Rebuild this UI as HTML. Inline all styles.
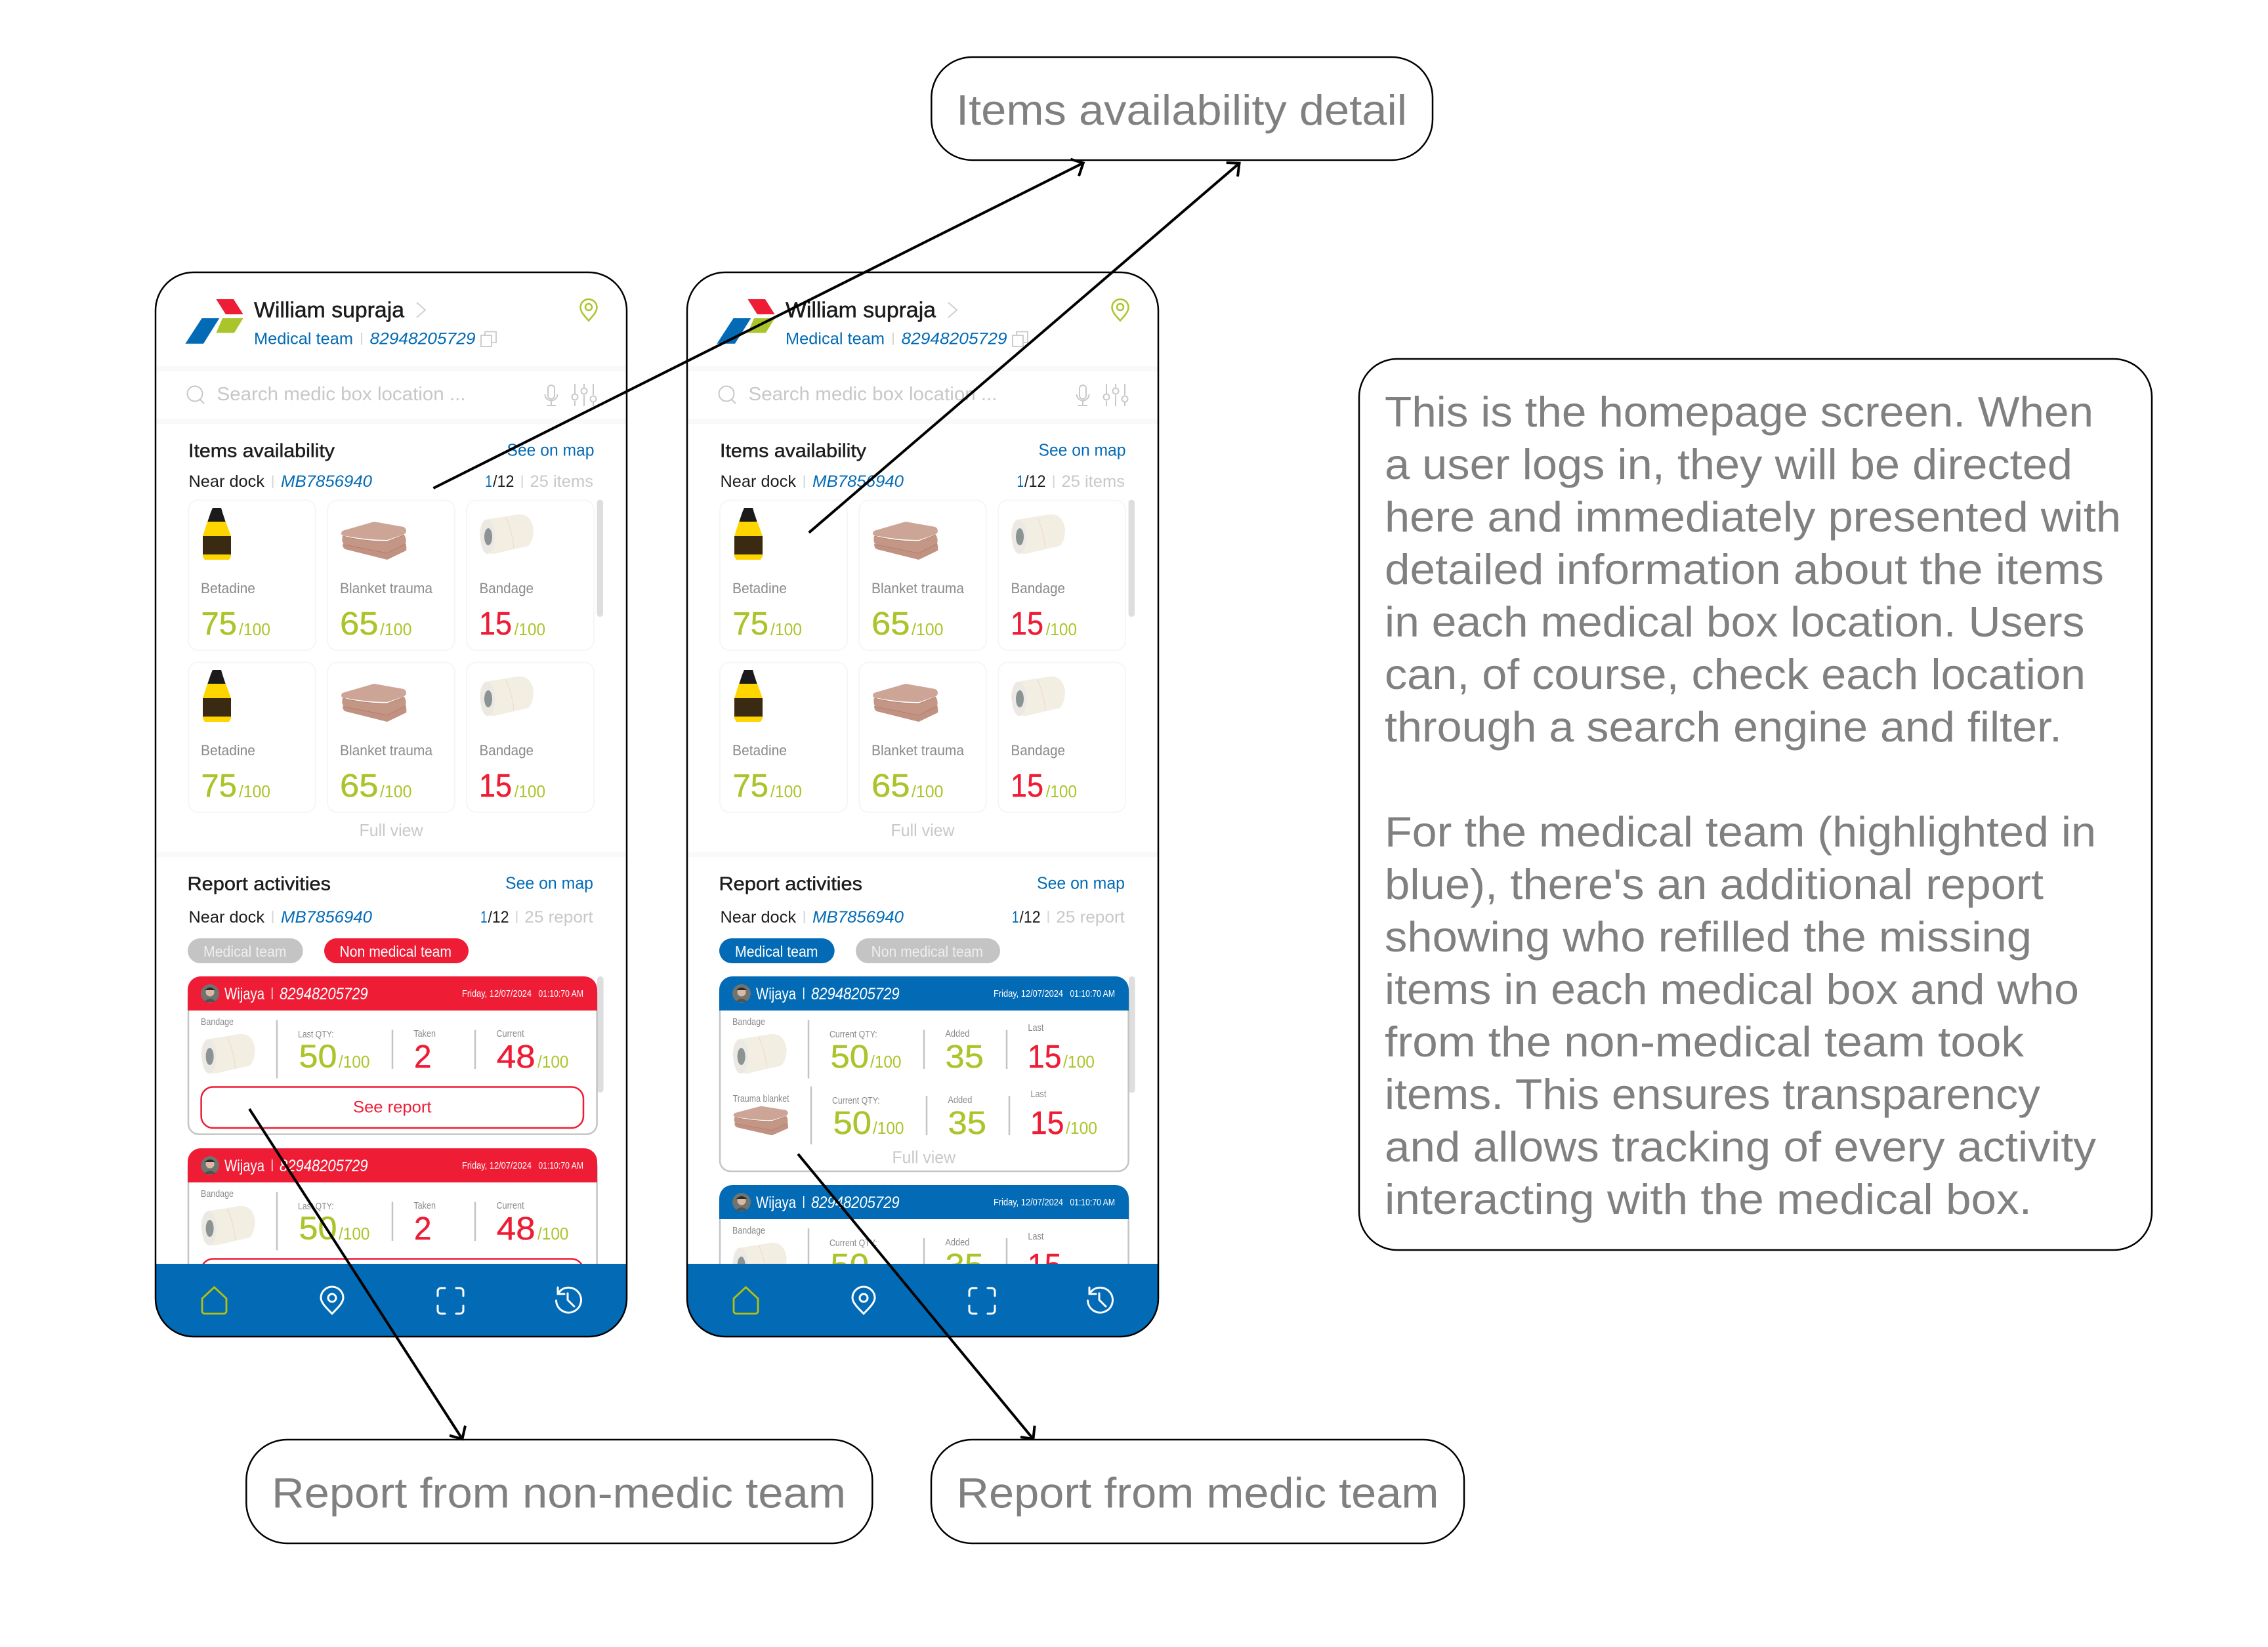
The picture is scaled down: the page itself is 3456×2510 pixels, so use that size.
<!DOCTYPE html>
<html lang="en"><head><meta charset="utf-8"><title>Homepage screens</title>
<style>
html,body{margin:0;padding:0;background:#fff;width:3456px;height:2510px;overflow:hidden}
svg{display:block}
text{font-family:"Liberation Sans",sans-serif;white-space:pre}
.i{font-style:italic}
.m{stroke:currentColor;stroke-width:.5}
.blue{fill:#036BB6}.dk{fill:#1c1c1c}.lg{fill:#c8c8c8}.mg{fill:#8a8a8a}.gr{fill:#AAC52B;color:#AAC52B}.rd{fill:#EE1C35;color:#EE1C35}.wh{fill:#fff}
.f14{font-size:14.5px}.f22{font-size:22px}.f23{font-size:23px}.f25{font-size:25px}.f26{font-size:26px}.f29{font-size:29px}.f33{font-size:33px}.f49{font-size:49px}
.big{font-size:65px;fill:#808080}
.ln{stroke:#c4c4c4;stroke-width:2.5;fill:none}
.sp{stroke:#d6d6d6;stroke-width:2}
.cd{fill:#fff;stroke:#f6f6f6;stroke-width:2}
.ar{stroke:#000;stroke-width:4;fill:none;stroke-linecap:butt;stroke-linejoin:miter}
.bx{fill:#fff;stroke:#000;stroke-width:2.5}
</style></head><body>
<svg xmlns="http://www.w3.org/2000/svg" width="3456" height="2510" viewBox="0 0 3456 2510">
<defs>
<g id="bt">
<path d="M324 774H337L339 781L344 796H316L321 781Z" fill="#1b1b1b"/>
<path d="M316 795H344L352 817V848L349 853H312L309 848V817Z" fill="#FFD500"/>
<rect x="309" y="817" width="43" height="28" fill="#3a2a12"/>
</g>
<g id="bl">
<path d="M2 34Q2 40 6 42L70 58L99 44Q100 38 98 33L70 47Z" fill="#c19182"/>
<path d="M2 22Q0 30 4 35L70 48L98 34Q100 26 96 20L70 30Q35 30 2 22Z" fill="#c49686"/>
<path d="M0 18Q0 14 5 13L50 0L95 8Q99 10 99 14Q99 18 94 20L70 28Q40 28 8 22Q0 22 0 18Z" fill="#cda597"/>
<path d="M3 22Q35 30 70 30L96 20M4 35L70 48L98 34" fill="none" stroke="#a87c6c" stroke-width=".8"/>
</g>
<g id="bn">
<path d="M8 8L58 0Q78-2 82 22Q82 40 74 48L22 60Q4 62 0 32Q0 14 8 8Z" fill="#f2eee2"/>
<ellipse cx="12" cy="34" rx="11" ry="26" fill="#ece8e4"/>
<ellipse cx="13" cy="34" rx="6" ry="13" fill="#8b9493"/>
<path d="M40 5Q50 28 52 52" fill="none" stroke="#f0d8cc" stroke-width="1"/>
</g>
</defs>
<rect width="3456" height="2510" fill="#fff"/>

<!-- PHONE 1 -->
<g id="p1">
<rect x="237" y="415" width="718" height="1622" rx="58" fill="#fff"/>
<rect x="238" y="558" width="716" height="8" fill="#f9f9f9"/><rect x="238" y="638" width="716" height="8" fill="#f9f9f9"/><rect x="238" y="1298.6" width="716" height="7.5" fill="#f9f9f9"/>
<path d="M329.4 456H356L370.6 479H343.9Z" fill="#EE1C35"/><path d="M307.6 485H334.2L310 523.7H282.4Z" fill="#036BB6"/><path d="M339 485H370.6L357 507.3H329.4Z" fill="#AAC52B"/>
<text x="387" y="483.7" textLength="229" lengthAdjust="spacingAndGlyphs" class="f33 dk m" style="color:#111">William supraja</text>
<path d="M635 461L648 472.500L635 484" fill="none" stroke="#d0d0d0" stroke-width="2"/>
<text x="387" y="524.500" textLength="151" lengthAdjust="spacingAndGlyphs" class="f25 blue">Medical team</text>
<path d="M551 507V525.700" class="sp"/>
<text x="563.500" y="524.500" textLength="161" lengthAdjust="spacingAndGlyphs" class="f25 blue i">82948205729</text>
<path d="M739 511V505.500H756V522H749M733 511H749V528H733Z" fill="none" stroke="#c8c8c8" stroke-width="1.800"/>
<path d="M897 488.600C890 481 884.500 475 884.500 468.500A12.500 12.500 0 0 1 909.500 468.500C909.500 475 904 481 897 488.600Z" fill="none" stroke="#AAC52B" stroke-width="2.500"/><circle cx="897" cy="468" r="5" fill="none" stroke="#AAC52B" stroke-width="2.500"/>
<circle cx="297" cy="600" r="11.500" fill="none" stroke="#c8c8c8" stroke-width="2"/><path d="M305 609L311 615" stroke="#c8c8c8" stroke-width="2"/>
<text x="330.500" y="610" textLength="379" lengthAdjust="spacingAndGlyphs" class="f29 lg">Search medic box location ...</text>
<g fill="none" stroke="#c8c8c8" stroke-width="2"><rect x="835" y="587" width="10" height="21" rx="5"/><path d="M830.500 601A9.500 9.500 0 0 0 849.500 601M840 611V618M833 618H847"/>
<path d="M876 585V600M876 611V619M890 585V591M890 602V619M904 585V602M904 613V619"/><circle cx="876" cy="605" r="4.500"/><circle cx="890" cy="596" r="4.500"/><circle cx="904" cy="608" r="4.500"/></g>
<text x="287" y="696.700" textLength="223" lengthAdjust="spacingAndGlyphs" class="f29 dk m" style="color:#222">Items availability</text>
<text x="772.500" y="694.700" textLength="133" lengthAdjust="spacingAndGlyphs" class="f26 blue">See on map</text>
<text x="287.500" y="742" textLength="115.500" lengthAdjust="spacingAndGlyphs" class="f25 dk">Near dock</text>
<path d="M415.600 724.500V743.700" class="sp"/>
<text x="428" y="742" textLength="139" lengthAdjust="spacingAndGlyphs" class="f25 blue i">MB7856940</text>
<text x="739.500" y="742" textLength="10.500" lengthAdjust="spacingAndGlyphs" class="f25 blue">1</text><text x="751" y="742" textLength="32.500" lengthAdjust="spacingAndGlyphs" class="f25 dk">/12</text>
<path d="M795.700 724.500V743.700" class="sp"/>
<text x="807.500" y="742" textLength="96.500" lengthAdjust="spacingAndGlyphs" class="f25 lg">25 items</text>
<rect x="909.600" y="761.600" width="9.400" height="178.400" rx="4.500" fill="#dedede"/>
<rect x="287" y="762.400" width="194" height="228.600" rx="15" class="cd"/><rect x="499" y="762.400" width="194" height="228.600" rx="15" class="cd"/><rect x="711" y="762.400" width="194" height="228.600" rx="15" class="cd"/>
<use href="#bt"/><use href="#bl" transform="translate(520 795)"/><use href="#bn" transform="translate(731 784)"/>
<text x="306" y="904" textLength="83" lengthAdjust="spacingAndGlyphs" class="f22 mg">Betadine</text>
<text x="518" y="904" textLength="141" lengthAdjust="spacingAndGlyphs" class="f22 mg">Blanket trauma</text>
<text x="730.500" y="904" textLength="82.500" lengthAdjust="spacingAndGlyphs" class="f22 mg">Bandage</text>
<text x="306.500" y="967" textLength="54.500" lengthAdjust="spacingAndGlyphs" class="f49 gr m">75</text><text x="364" y="968" textLength="48" lengthAdjust="spacingAndGlyphs" class="f26 gr">/100</text>
<text x="518" y="967" textLength="58.600" lengthAdjust="spacingAndGlyphs" class="f49 gr m">65</text><text x="579" y="968" textLength="48.500" lengthAdjust="spacingAndGlyphs" class="f26 gr">/100</text>
<text x="730" y="967" textLength="50" lengthAdjust="spacingAndGlyphs" class="f49 rd m">15</text><text x="783.600" y="968" textLength="47.400" lengthAdjust="spacingAndGlyphs" class="f26 gr">/100</text>
<g transform="translate(0 247)">
<rect x="287" y="762.400" width="194" height="228.600" rx="15" class="cd"/><rect x="499" y="762.400" width="194" height="228.600" rx="15" class="cd"/><rect x="711" y="762.400" width="194" height="228.600" rx="15" class="cd"/>
<use href="#bt"/><use href="#bl" transform="translate(520 795)"/><use href="#bn" transform="translate(731 784)"/>
<text x="306" y="904" textLength="83" lengthAdjust="spacingAndGlyphs" class="f22 mg">Betadine</text>
<text x="518" y="904" textLength="141" lengthAdjust="spacingAndGlyphs" class="f22 mg">Blanket trauma</text>
<text x="730.500" y="904" textLength="82.500" lengthAdjust="spacingAndGlyphs" class="f22 mg">Bandage</text>
<text x="306.500" y="967" textLength="54.500" lengthAdjust="spacingAndGlyphs" class="f49 gr m">75</text><text x="364" y="968" textLength="48" lengthAdjust="spacingAndGlyphs" class="f26 gr">/100</text>
<text x="518" y="967" textLength="58.600" lengthAdjust="spacingAndGlyphs" class="f49 gr m">65</text><text x="579" y="968" textLength="48.500" lengthAdjust="spacingAndGlyphs" class="f26 gr">/100</text>
<text x="730" y="967" textLength="50" lengthAdjust="spacingAndGlyphs" class="f49 rd m">15</text><text x="783.600" y="968" textLength="47.400" lengthAdjust="spacingAndGlyphs" class="f26 gr">/100</text>
</g>
<text x="547.500" y="1274" textLength="97" lengthAdjust="spacingAndGlyphs" class="f26 lg">Full view</text>
<text x="285.500" y="1356.500" textLength="218.500" lengthAdjust="spacingAndGlyphs" class="f29 dk m" style="color:#222">Report activities</text>
<text x="770" y="1354.500" textLength="134" lengthAdjust="spacingAndGlyphs" class="f26 blue">See on map</text>
<text x="287.500" y="1406" textLength="115.500" lengthAdjust="spacingAndGlyphs" class="f25 dk">Near dock</text>
<path d="M415.600 1388V1407" class="sp"/>
<text x="428" y="1406" textLength="139" lengthAdjust="spacingAndGlyphs" class="f25 blue i">MB7856940</text>
<text x="732" y="1406" textLength="10.500" lengthAdjust="spacingAndGlyphs" class="f25 blue">1</text><text x="743.500" y="1406" textLength="32" lengthAdjust="spacingAndGlyphs" class="f25 dk">/12</text>
<path d="M787.400 1388V1407" class="sp"/>
<text x="799.300" y="1406" textLength="104.500" lengthAdjust="spacingAndGlyphs" class="f25 lg">25 report</text>
<rect x="286" y="1430" width="175.700" height="38" rx="19" fill="#c4c4c4"/><rect x="494" y="1430" width="220" height="38" rx="19" fill="#EE1C35"/>
<text x="310" y="1457.800" textLength="126.500" lengthAdjust="spacingAndGlyphs" class="f23" fill="#eee">Medical team</text>
<text x="517.500" y="1457.800" textLength="170.500" lengthAdjust="spacingAndGlyphs" class="f23 wh">Non medical team</text>
<rect x="910" y="1488" width="9.600" height="177" rx="4.500" fill="#dedede"/>
<!-- card 1 -->
<rect x="287" y="1500" width="622.600" height="228.600" rx="16" fill="#fff" stroke="#c4c4c4" stroke-width="2.500"/>
<path d="M286 1540V1508A20 20 0 0 1 306 1488H890A20 20 0 0 1 910 1508V1540Z" fill="#EE1C35"/>
<circle cx="320" cy="1514" r="14" fill="#6f7470"/><circle cx="320" cy="1512" r="6.500" fill="#d9b9a3"/><path d="M312 1509Q320 1501 328 1509Z" fill="#2c2a28"/><path d="M311 1527Q320 1517 329 1527Z" fill="#4e544f"/>
<text x="342" y="1523" textLength="61" lengthAdjust="spacingAndGlyphs" class="f25 wh">Wijaya</text><path d="M414.700 1505V1523" stroke="#fff" stroke-width="1.500"/>
<text x="426" y="1523" textLength="134.600" lengthAdjust="spacingAndGlyphs" class="f25 wh i">82948205729</text>
<text x="704" y="1519" textLength="106" lengthAdjust="spacingAndGlyphs" class="f14 wh">Friday, 12/07/2024</text><text x="820.400" y="1519" textLength="68.600" lengthAdjust="spacingAndGlyphs" class="f14 wh">01:10:70 AM</text>
<text x="306" y="1562" textLength="50" lengthAdjust="spacingAndGlyphs" class="f14 mg">Bandage</text>
<use href="#bn" transform="translate(306.600 1576)"/>
<path d="M422 1554.500V1643.500M598 1569.600V1629M724 1569.600V1629" class="ln"/>
<text x="454" y="1581" textLength="54.700" lengthAdjust="spacingAndGlyphs" class="f14 mg">Last QTY:</text>
<text x="455.500" y="1626.700" textLength="58" lengthAdjust="spacingAndGlyphs" class="f49 gr m">50</text><text x="516" y="1627" textLength="47.500" lengthAdjust="spacingAndGlyphs" class="f26 gr">/100</text>
<text x="630.400" y="1580" textLength="33.600" lengthAdjust="spacingAndGlyphs" class="f14 mg">Taken</text>
<text x="631" y="1627" textLength="26.500" lengthAdjust="spacingAndGlyphs" class="f49 rd m">2</text>
<text x="756.400" y="1580" textLength="42.200" lengthAdjust="spacingAndGlyphs" class="f14 mg">Current</text>
<text x="756.800" y="1627" textLength="58.800" lengthAdjust="spacingAndGlyphs" class="f49 rd m">48</text><text x="819" y="1627" textLength="47.500" lengthAdjust="spacingAndGlyphs" class="f26 gr">/100</text>
<rect x="306.600" y="1656.500" width="582.400" height="62.500" rx="18" fill="#fff" stroke="#EE1C35" stroke-width="2.500"/>
<text x="538" y="1695.700" textLength="119.500" lengthAdjust="spacingAndGlyphs" class="f25 rd">See report</text>
<!-- card 2 -->
<rect x="287" y="1762" width="622.600" height="240" rx="16" fill="#fff" stroke="#c4c4c4" stroke-width="2.500"/>
<path d="M286 1802V1770A20 20 0 0 1 306 1750H890A20 20 0 0 1 910 1770V1802Z" fill="#EE1C35"/>
<circle cx="320" cy="1776" r="14" fill="#6f7470"/><circle cx="320" cy="1774" r="6.500" fill="#d9b9a3"/><path d="M312 1771Q320 1763 328 1771Z" fill="#2c2a28"/><path d="M311 1789Q320 1779 329 1789Z" fill="#4e544f"/>
<text x="342" y="1785" textLength="61" lengthAdjust="spacingAndGlyphs" class="f25 wh">Wijaya</text><path d="M414.700 1767V1785" stroke="#fff" stroke-width="1.500"/>
<text x="426" y="1785" textLength="134.600" lengthAdjust="spacingAndGlyphs" class="f25 wh i">82948205729</text>
<text x="704" y="1781" textLength="106" lengthAdjust="spacingAndGlyphs" class="f14 wh">Friday, 12/07/2024</text><text x="820.400" y="1781" textLength="68.600" lengthAdjust="spacingAndGlyphs" class="f14 wh">01:10:70 AM</text>
<text x="306" y="1824" textLength="50" lengthAdjust="spacingAndGlyphs" class="f14 mg">Bandage</text>
<use href="#bn" transform="translate(306.600 1838)"/>
<path d="M422 1816.500V1905.500M598 1831.600V1891M724 1831.600V1891" class="ln"/>
<text x="454" y="1843" textLength="54.700" lengthAdjust="spacingAndGlyphs" class="f14 mg">Last QTY:</text>
<text x="455.500" y="1888.700" textLength="58" lengthAdjust="spacingAndGlyphs" class="f49 gr m">50</text><text x="516" y="1889" textLength="47.500" lengthAdjust="spacingAndGlyphs" class="f26 gr">/100</text>
<text x="630.400" y="1842" textLength="33.600" lengthAdjust="spacingAndGlyphs" class="f14 mg">Taken</text>
<text x="631" y="1889" textLength="26.500" lengthAdjust="spacingAndGlyphs" class="f49 rd m">2</text>
<text x="756.400" y="1842" textLength="42.200" lengthAdjust="spacingAndGlyphs" class="f14 mg">Current</text>
<text x="756.800" y="1889" textLength="58.800" lengthAdjust="spacingAndGlyphs" class="f49 rd m">48</text><text x="819" y="1889" textLength="47.500" lengthAdjust="spacingAndGlyphs" class="f26 gr">/100</text>
<rect x="306.600" y="1918.500" width="582.400" height="62.500" rx="18" fill="#fff" stroke="#EE1C35" stroke-width="2.500"/>
<!-- nav -->
<path d="M237 1926H955V1979A58 58 0 0 1 897 2037H295A58 58 0 0 1 237 1979Z" fill="#036BB6"/>
<path d="M326.500 1961.700L345 1979V1998A4 4 0 0 1 341 2002H312A4 4 0 0 1 308 1998V1979Z" fill="none" stroke="#B5C010" stroke-width="2.800"/>
<g fill="none" stroke="#fff" stroke-width="3" stroke-linecap="round">
<path d="M506 2002C497 1993 489 1985 489 1978A17 17 0 0 1 523 1978C523 1985 515 1993 506 2002Z"/><circle cx="506" cy="1978" r="6"/>
<path d="M667 1975V1968A5 5 0 0 1 672 1963H678M695 1963H701A5 5 0 0 1 706 1968V1975M706 1990V1997A5 5 0 0 1 701 2002H695M678 2002H672A5 5 0 0 1 667 1997V1990"/>
<path d="M852 1969A19 19 0 1 1 847.500 1982M850 1962V1972H860M865 1971V1981L875 1991"/>
</g>
<rect x="237" y="415" width="718" height="1622" rx="58" fill="none" stroke="#000" stroke-width="2.500"/>
</g>

<!-- PHONE 2 -->
<g transform="translate(810 0)">
<rect x="237" y="415" width="718" height="1622" rx="58" fill="#fff"/>
<rect x="238" y="558" width="716" height="8" fill="#f9f9f9"/><rect x="238" y="638" width="716" height="8" fill="#f9f9f9"/><rect x="238" y="1298.600" width="716" height="7.500" fill="#f9f9f9"/>
<path d="M329.400 456H356L370.600 479H343.900Z" fill="#EE1C35"/><path d="M307.600 485H334.200L310 523.700H282.400Z" fill="#036BB6"/><path d="M339 485H370.600L357 507.300H329.400Z" fill="#AAC52B"/>
<text x="387" y="483.700" textLength="229" lengthAdjust="spacingAndGlyphs" class="f33 dk m" style="color:#111">William supraja</text>
<path d="M635 461L648 472.500L635 484" fill="none" stroke="#d0d0d0" stroke-width="2"/>
<text x="387" y="524.500" textLength="151" lengthAdjust="spacingAndGlyphs" class="f25 blue">Medical team</text>
<path d="M551 507V525.700" class="sp"/>
<text x="563.500" y="524.500" textLength="161" lengthAdjust="spacingAndGlyphs" class="f25 blue i">82948205729</text>
<path d="M739 511V505.500H756V522H749M733 511H749V528H733Z" fill="none" stroke="#c8c8c8" stroke-width="1.800"/>
<path d="M897 488.600C890 481 884.500 475 884.500 468.500A12.500 12.500 0 0 1 909.500 468.500C909.500 475 904 481 897 488.600Z" fill="none" stroke="#AAC52B" stroke-width="2.500"/><circle cx="897" cy="468" r="5" fill="none" stroke="#AAC52B" stroke-width="2.500"/>
<circle cx="297" cy="600" r="11.500" fill="none" stroke="#c8c8c8" stroke-width="2"/><path d="M305 609L311 615" stroke="#c8c8c8" stroke-width="2"/>
<text x="330.500" y="610" textLength="379" lengthAdjust="spacingAndGlyphs" class="f29 lg">Search medic box location ...</text>
<g fill="none" stroke="#c8c8c8" stroke-width="2"><rect x="835" y="587" width="10" height="21" rx="5"/><path d="M830.500 601A9.500 9.500 0 0 0 849.500 601M840 611V618M833 618H847"/>
<path d="M876 585V600M876 611V619M890 585V591M890 602V619M904 585V602M904 613V619"/><circle cx="876" cy="605" r="4.500"/><circle cx="890" cy="596" r="4.500"/><circle cx="904" cy="608" r="4.500"/></g>
<text x="287" y="696.700" textLength="223" lengthAdjust="spacingAndGlyphs" class="f29 dk m" style="color:#222">Items availability</text>
<text x="772.500" y="694.700" textLength="133" lengthAdjust="spacingAndGlyphs" class="f26 blue">See on map</text>
<text x="287.500" y="742" textLength="115.500" lengthAdjust="spacingAndGlyphs" class="f25 dk">Near dock</text>
<path d="M415.600 724.500V743.700" class="sp"/>
<text x="428" y="742" textLength="139" lengthAdjust="spacingAndGlyphs" class="f25 blue i">MB7856940</text>
<text x="739.500" y="742" textLength="10.500" lengthAdjust="spacingAndGlyphs" class="f25 blue">1</text><text x="751" y="742" textLength="32.500" lengthAdjust="spacingAndGlyphs" class="f25 dk">/12</text>
<path d="M795.700 724.500V743.700" class="sp"/>
<text x="807.500" y="742" textLength="96.500" lengthAdjust="spacingAndGlyphs" class="f25 lg">25 items</text>
<rect x="909.600" y="761.600" width="9.400" height="178.400" rx="4.500" fill="#dedede"/>
<rect x="287" y="762.400" width="194" height="228.600" rx="15" class="cd"/><rect x="499" y="762.400" width="194" height="228.600" rx="15" class="cd"/><rect x="711" y="762.400" width="194" height="228.600" rx="15" class="cd"/>
<use href="#bt"/><use href="#bl" transform="translate(520 795)"/><use href="#bn" transform="translate(731 784)"/>
<text x="306" y="904" textLength="83" lengthAdjust="spacingAndGlyphs" class="f22 mg">Betadine</text>
<text x="518" y="904" textLength="141" lengthAdjust="spacingAndGlyphs" class="f22 mg">Blanket trauma</text>
<text x="730.500" y="904" textLength="82.500" lengthAdjust="spacingAndGlyphs" class="f22 mg">Bandage</text>
<text x="306.500" y="967" textLength="54.500" lengthAdjust="spacingAndGlyphs" class="f49 gr m">75</text><text x="364" y="968" textLength="48" lengthAdjust="spacingAndGlyphs" class="f26 gr">/100</text>
<text x="518" y="967" textLength="58.600" lengthAdjust="spacingAndGlyphs" class="f49 gr m">65</text><text x="579" y="968" textLength="48.500" lengthAdjust="spacingAndGlyphs" class="f26 gr">/100</text>
<text x="730" y="967" textLength="50" lengthAdjust="spacingAndGlyphs" class="f49 rd m">15</text><text x="783.600" y="968" textLength="47.400" lengthAdjust="spacingAndGlyphs" class="f26 gr">/100</text>
<g transform="translate(0 247)">
<rect x="287" y="762.400" width="194" height="228.600" rx="15" class="cd"/><rect x="499" y="762.400" width="194" height="228.600" rx="15" class="cd"/><rect x="711" y="762.400" width="194" height="228.600" rx="15" class="cd"/>
<use href="#bt"/><use href="#bl" transform="translate(520 795)"/><use href="#bn" transform="translate(731 784)"/>
<text x="306" y="904" textLength="83" lengthAdjust="spacingAndGlyphs" class="f22 mg">Betadine</text>
<text x="518" y="904" textLength="141" lengthAdjust="spacingAndGlyphs" class="f22 mg">Blanket trauma</text>
<text x="730.500" y="904" textLength="82.500" lengthAdjust="spacingAndGlyphs" class="f22 mg">Bandage</text>
<text x="306.500" y="967" textLength="54.500" lengthAdjust="spacingAndGlyphs" class="f49 gr m">75</text><text x="364" y="968" textLength="48" lengthAdjust="spacingAndGlyphs" class="f26 gr">/100</text>
<text x="518" y="967" textLength="58.600" lengthAdjust="spacingAndGlyphs" class="f49 gr m">65</text><text x="579" y="968" textLength="48.500" lengthAdjust="spacingAndGlyphs" class="f26 gr">/100</text>
<text x="730" y="967" textLength="50" lengthAdjust="spacingAndGlyphs" class="f49 rd m">15</text><text x="783.600" y="968" textLength="47.400" lengthAdjust="spacingAndGlyphs" class="f26 gr">/100</text>
</g>
<text x="547.500" y="1274" textLength="97" lengthAdjust="spacingAndGlyphs" class="f26 lg">Full view</text>
<text x="285.500" y="1356.500" textLength="218.500" lengthAdjust="spacingAndGlyphs" class="f29 dk m" style="color:#222">Report activities</text>
<text x="770" y="1354.500" textLength="134" lengthAdjust="spacingAndGlyphs" class="f26 blue">See on map</text>
<text x="287.500" y="1406" textLength="115.500" lengthAdjust="spacingAndGlyphs" class="f25 dk">Near dock</text>
<path d="M415.600 1388V1407" class="sp"/>
<text x="428" y="1406" textLength="139" lengthAdjust="spacingAndGlyphs" class="f25 blue i">MB7856940</text>
<text x="732" y="1406" textLength="10.500" lengthAdjust="spacingAndGlyphs" class="f25 blue">1</text><text x="743.500" y="1406" textLength="32" lengthAdjust="spacingAndGlyphs" class="f25 dk">/12</text>
<path d="M787.400 1388V1407" class="sp"/>
<text x="799.300" y="1406" textLength="104.500" lengthAdjust="spacingAndGlyphs" class="f25 lg">25 report</text>
<rect x="286" y="1430" width="175.700" height="38" rx="19" fill="#036BB6"/><rect x="494" y="1430" width="220" height="38" rx="19" fill="#c4c4c4"/>
<text x="310" y="1457.800" textLength="126.500" lengthAdjust="spacingAndGlyphs" class="f23 wh">Medical team</text>
<text x="517.500" y="1457.800" textLength="170.500" lengthAdjust="spacingAndGlyphs" class="f23" fill="#eee">Non medical team</text>
<rect x="910" y="1488" width="9.600" height="177.500" rx="4.500" fill="#dedede"/>
<!-- card 1 -->
<rect x="287" y="1500" width="622.600" height="285" rx="16" fill="#fff" stroke="#c4c4c4" stroke-width="2.500"/>
<path d="M286 1540V1508A20 20 0 0 1 306 1488H890A20 20 0 0 1 910 1508V1540Z" fill="#036BB6"/>
<circle cx="320" cy="1514" r="14" fill="#6f7470"/><circle cx="320" cy="1512" r="6.500" fill="#d9b9a3"/><path d="M312 1509Q320 1501 328 1509Z" fill="#2c2a28"/><path d="M311 1527Q320 1517 329 1527Z" fill="#4e544f"/>
<text x="342" y="1523" textLength="61" lengthAdjust="spacingAndGlyphs" class="f25 wh">Wijaya</text><path d="M414.700 1505V1523" stroke="#fff" stroke-width="1.500"/>
<text x="426" y="1523" textLength="134.600" lengthAdjust="spacingAndGlyphs" class="f25 wh i">82948205729</text>
<text x="704" y="1519" textLength="106" lengthAdjust="spacingAndGlyphs" class="f14 wh">Friday, 12/07/2024</text><text x="820.400" y="1519" textLength="68.600" lengthAdjust="spacingAndGlyphs" class="f14 wh">01:10:70 AM</text>
<text x="306" y="1562" textLength="50" lengthAdjust="spacingAndGlyphs" class="f14 mg">Bandage</text>
<use href="#bn" transform="translate(306.600 1576)"/>
<path d="M422 1554.500V1643.500M598 1569.600V1629M724 1569.600V1629" class="ln"/>
<text x="454" y="1581" textLength="72.700" lengthAdjust="spacingAndGlyphs" class="f14 mg">Current QTY:</text>
<text x="455.500" y="1627" textLength="58.500" lengthAdjust="spacingAndGlyphs" class="f49 gr m">50</text><text x="516" y="1627" textLength="47.500" lengthAdjust="spacingAndGlyphs" class="f26 gr">/100</text>
<text x="630.400" y="1580" textLength="37" lengthAdjust="spacingAndGlyphs" class="f14 mg">Added</text>
<text x="630.500" y="1627" textLength="58.500" lengthAdjust="spacingAndGlyphs" class="f49 gr m">35</text>
<text x="756.400" y="1571" textLength="24" lengthAdjust="spacingAndGlyphs" class="f14 mg">Last</text>
<text x="756" y="1627" textLength="51.400" lengthAdjust="spacingAndGlyphs" class="f49 rd m">15</text><text x="810" y="1627" textLength="48" lengthAdjust="spacingAndGlyphs" class="f26 gr">/100</text>
<text x="306.600" y="1679" textLength="86" lengthAdjust="spacingAndGlyphs" class="f14 mg">Trauma blanket</text>
<use href="#bl" transform="translate(307.600 1685.600) scale(.84 .77)"/>
<path d="M426 1655.700V1744M602 1670V1730M728 1670V1730" class="ln"/>
<text x="458" y="1682" textLength="72.700" lengthAdjust="spacingAndGlyphs" class="f14 mg">Current QTY:</text>
<text x="459.500" y="1728" textLength="58.500" lengthAdjust="spacingAndGlyphs" class="f49 gr m">50</text><text x="520" y="1728" textLength="47.500" lengthAdjust="spacingAndGlyphs" class="f26 gr">/100</text>
<text x="634.400" y="1681" textLength="37" lengthAdjust="spacingAndGlyphs" class="f14 mg">Added</text>
<text x="634.500" y="1728" textLength="58.500" lengthAdjust="spacingAndGlyphs" class="f49 gr m">35</text>
<text x="760.400" y="1672" textLength="24" lengthAdjust="spacingAndGlyphs" class="f14 mg">Last</text>
<text x="760" y="1728" textLength="51.400" lengthAdjust="spacingAndGlyphs" class="f49 rd m">15</text><text x="814" y="1728" textLength="48" lengthAdjust="spacingAndGlyphs" class="f26 gr">/100</text>
<text x="549.500" y="1772.600" textLength="96.500" lengthAdjust="spacingAndGlyphs" class="f26 lg">Full view</text>
<!-- card 2 -->
<rect x="287" y="1818" width="622.600" height="190" rx="16" fill="#fff" stroke="#c4c4c4" stroke-width="2.500"/>
<path d="M286 1858V1826A20 20 0 0 1 306 1806H890A20 20 0 0 1 910 1826V1858Z" fill="#036BB6"/>
<circle cx="320" cy="1832" r="14" fill="#6f7470"/><circle cx="320" cy="1830" r="6.500" fill="#d9b9a3"/><path d="M312 1827Q320 1819 328 1827Z" fill="#2c2a28"/><path d="M311 1845Q320 1835 329 1845Z" fill="#4e544f"/>
<text x="342" y="1841" textLength="61" lengthAdjust="spacingAndGlyphs" class="f25 wh">Wijaya</text><path d="M414.700 1823V1841" stroke="#fff" stroke-width="1.500"/>
<text x="426" y="1841" textLength="134.600" lengthAdjust="spacingAndGlyphs" class="f25 wh i">82948205729</text>
<text x="704" y="1837" textLength="106" lengthAdjust="spacingAndGlyphs" class="f14 wh">Friday, 12/07/2024</text><text x="820.400" y="1837" textLength="68.600" lengthAdjust="spacingAndGlyphs" class="f14 wh">01:10:70 AM</text>
<text x="306" y="1880" textLength="50" lengthAdjust="spacingAndGlyphs" class="f14 mg">Bandage</text>
<use href="#bn" transform="translate(306.600 1894)"/>
<path d="M422 1872V1960M598 1887V1947M724 1887V1947" class="ln"/>
<text x="454" y="1899" textLength="72.700" lengthAdjust="spacingAndGlyphs" class="f14 mg">Current QTY:</text>
<text x="455.500" y="1945" textLength="58.500" lengthAdjust="spacingAndGlyphs" class="f49 gr m">50</text>
<text x="630.400" y="1898" textLength="37" lengthAdjust="spacingAndGlyphs" class="f14 mg">Added</text>
<text x="630.500" y="1945" textLength="58.500" lengthAdjust="spacingAndGlyphs" class="f49 gr m">35</text>
<text x="756.400" y="1889" textLength="24" lengthAdjust="spacingAndGlyphs" class="f14 mg">Last</text>
<text x="756" y="1945" textLength="51.400" lengthAdjust="spacingAndGlyphs" class="f49 rd m">15</text>
<!-- nav -->
<path d="M237 1926H955V1979A58 58 0 0 1 897 2037H295A58 58 0 0 1 237 1979Z" fill="#036BB6"/>
<path d="M326.500 1961.700L345 1979V1998A4 4 0 0 1 341 2002H312A4 4 0 0 1 308 1998V1979Z" fill="none" stroke="#B5C010" stroke-width="2.800"/>
<g fill="none" stroke="#fff" stroke-width="3" stroke-linecap="round">
<path d="M506 2002C497 1993 489 1985 489 1978A17 17 0 0 1 523 1978C523 1985 515 1993 506 2002Z"/><circle cx="506" cy="1978" r="6"/>
<path d="M667 1975V1968A5 5 0 0 1 672 1963H678M695 1963H701A5 5 0 0 1 706 1968V1975M706 1990V1997A5 5 0 0 1 701 2002H695M678 2002H672A5 5 0 0 1 667 1997V1990"/>
<path d="M852 1969A19 19 0 1 1 847.500 1982M850 1962V1972H860M865 1971V1981L875 1991"/>
</g>
<rect x="237" y="415" width="718" height="1622" rx="58" fill="none" stroke="#000" stroke-width="2.500"/>
</g>

<!-- label boxes -->
<rect x="1419.300" y="87" width="763.700" height="157" rx="62" class="bx"/>
<text x="1457" y="190" textLength="687" lengthAdjust="spacingAndGlyphs" class="big">Items availability detail</text>
<rect x="375.300" y="2194" width="954" height="158" rx="62" class="bx"/>
<text x="414" y="2297.700" textLength="875" lengthAdjust="spacingAndGlyphs" class="big">Report from non-medic team</text>
<rect x="1419" y="2194" width="812" height="158" rx="62" class="bx"/>
<text x="1457.500" y="2297.700" textLength="735" lengthAdjust="spacingAndGlyphs" class="big">Report from medic team</text>

<!-- description panel -->
<rect x="2071" y="547" width="1208" height="1358" rx="58" class="bx"/>
<text x="2110" y="650" textLength="1080" lengthAdjust="spacingAndGlyphs" class="big">This is the homepage screen. When</text>
<text x="2110" y="730" textLength="1048" lengthAdjust="spacingAndGlyphs" class="big">a user logs in, they will be directed</text>
<text x="2110" y="810" textLength="1122" lengthAdjust="spacingAndGlyphs" class="big">here and immediately presented with</text>
<text x="2110" y="890" textLength="1096" lengthAdjust="spacingAndGlyphs" class="big">detailed information about the items</text>
<text x="2110" y="970" textLength="1066.500" lengthAdjust="spacingAndGlyphs" class="big">in each medical box location. Users</text>
<text x="2110" y="1050" textLength="1068" lengthAdjust="spacingAndGlyphs" class="big">can, of course, check each location</text>
<text x="2110" y="1130" textLength="1032" lengthAdjust="spacingAndGlyphs" class="big">through a search engine and filter.</text>
<text x="2110" y="1290" textLength="1084" lengthAdjust="spacingAndGlyphs" class="big">For the medical team (highlighted in</text>
<text x="2110" y="1370" textLength="1004" lengthAdjust="spacingAndGlyphs" class="big">blue), there's an additional report</text>
<text x="2110" y="1450" textLength="986" lengthAdjust="spacingAndGlyphs" class="big">showing who refilled the missing</text>
<text x="2110" y="1530" textLength="1058" lengthAdjust="spacingAndGlyphs" class="big">items in each medical box and who</text>
<text x="2110" y="1610" textLength="974" lengthAdjust="spacingAndGlyphs" class="big">from the non-medical team took</text>
<text x="2110" y="1690" textLength="999" lengthAdjust="spacingAndGlyphs" class="big">items. This ensures transparency</text>
<text x="2110" y="1770" textLength="1084" lengthAdjust="spacingAndGlyphs" class="big">and allows tracking of every activity</text>
<text x="2110" y="1850" textLength="986" lengthAdjust="spacingAndGlyphs" class="big">interacting with the medical box.</text>

<!-- arrows -->
<path d="M660.400 744L1650.700 248.300M1631.400 242.700L1650.700 248.300L1644 268.300" class="ar"/>
<path d="M1232.700 811.700L1888.500 248.700M1868.700 248L1888.500 248.700L1886 269" class="ar"/>
<path d="M380 1690L704.400 2193M709 2172.700L704.400 2193L685 2187.700" class="ar"/>
<path d="M1216 1758.700L1574.400 2193M1576.600 2172.700L1574.400 2193L1555 2190" class="ar"/>
</svg>
</body></html>
